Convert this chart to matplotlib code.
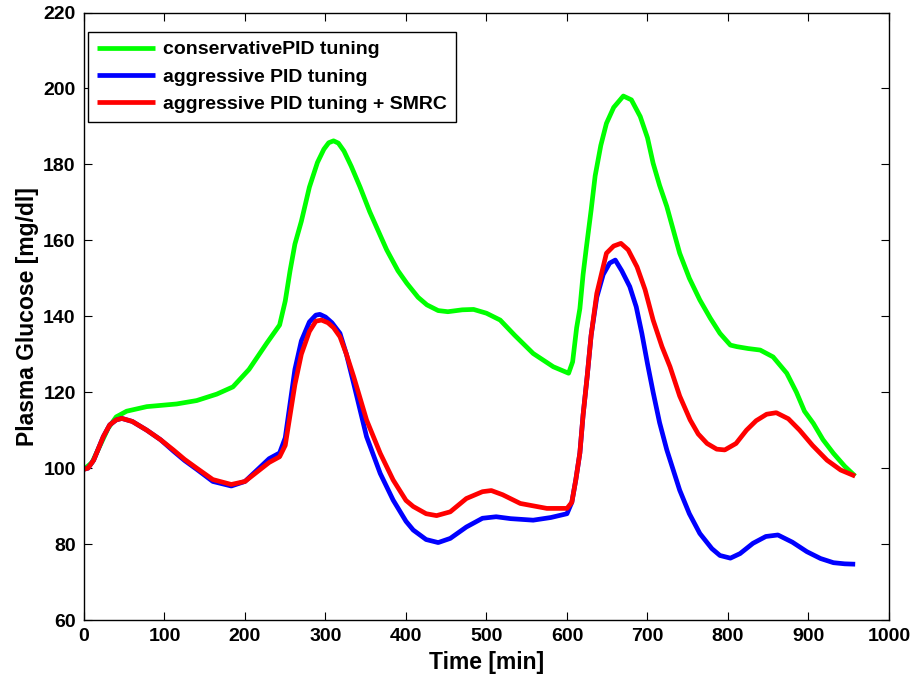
import matplotlib
matplotlib.use("Agg")
import matplotlib.pyplot as plt

plt.rcParams['font.family'] = ['Liberation Sans', 'DejaVu Sans']
plt.rcParams['font.weight'] = 'bold'

# ---- data ----
t_cons = [0, 10, 20, 30, 40, 53, 78, 115, 140, 165, 185, 205, 227, 243, 250, 256,
          262, 270, 280, 290, 298, 304, 310, 316, 323, 332, 343, 355, 376, 390,
          401, 415, 426, 440, 452, 470, 484, 500, 517, 535, 558, 583, 602, 607,
          612, 616, 620, 624, 630, 635, 642, 649, 658, 670, 680, 691, 700, 707,
          715, 724, 740, 752, 765, 778, 790, 803, 811, 825, 840, 856, 873, 885,
          895, 906, 918, 931, 945, 958]
g_cons = [99.7, 101.5, 106, 110.5, 113.5, 115, 116.2, 116.9, 117.8, 119.5, 121.4,
          126, 132.9, 137.7, 144, 152, 159, 165, 174, 180.5, 184, 185.7, 186.2,
          185.6, 183.5, 179.5, 174, 167.5, 157.5, 152, 148.7, 145, 143, 141.5,
          141.2, 141.7, 141.8, 140.8, 139, 135, 130.2, 126.7, 125, 128, 137, 142,
          151, 158, 168, 177, 185, 190.8, 195, 198, 197, 192.6, 187, 180.3, 174.5,
          168.9, 156.6, 150, 144.3, 139.5, 135.5, 132.4, 132, 131.5, 131.1, 129.3,
          125, 120, 115, 111.8, 107.5, 103.9, 100.5, 97.9]

t_aggr = [0, 5, 12, 24, 32, 40, 47, 60, 78, 95, 111, 125, 140, 160, 183, 200, 215,
          230, 243, 250, 256, 262, 270, 280, 288, 293, 300, 308, 318, 326, 335,
          351, 368, 384, 400, 409, 425, 440, 455, 475, 495, 512, 530, 558, 580,
          600, 606, 611, 616, 620, 625, 630, 637, 645, 653, 660, 668, 678, 686,
          693, 700, 707, 715, 724, 740, 752, 765, 780, 790, 803, 815, 831, 847,
          862, 880, 898, 915, 931, 945, 958]
g_aggr = [99.7, 100, 102.1, 108.3, 111.4, 112.7, 113.1, 112.3, 110, 107.5, 104.5,
          102, 99.7, 96.5, 95.3, 96.5, 99.5, 102.5, 104, 108, 117, 126, 133.5,
          138.5, 140.3, 140.5, 139.8, 138.3, 135.5, 130, 122.3, 108.3, 98.6, 91.6,
          86, 83.7, 81.2, 80.4, 81.5, 84.5, 86.8, 87.2, 86.7, 86.3, 87, 88, 91,
          97, 104, 114, 124, 135, 145, 151, 154, 154.8, 152, 147.8, 142.5, 135.5,
          127.5, 120, 112, 104.8, 94.2, 88, 82.8, 78.8, 77, 76.3, 77.5, 80.2, 82,
          82.4, 80.5, 78, 76.2, 75.1, 74.8, 74.7]

t_smrc = [0, 5, 12, 24, 32, 40, 47, 60, 78, 95, 111, 125, 140, 160, 183, 200, 215,
          230, 243, 250, 256, 262, 270, 280, 288, 295, 303, 310, 318, 326, 335,
          351, 368, 384, 400, 409, 425, 438, 455, 475, 495, 506, 520, 542, 575,
          600, 606, 611, 616, 620, 625, 630, 637, 649, 658, 667, 676, 687, 697,
          707, 718, 728, 740, 753, 763, 774, 786, 796, 810, 823, 835, 848, 860,
          875, 889, 905, 923, 940, 958]
g_smrc = [99.7, 100, 102.1, 108.3, 111.4, 112.7, 113.1, 112.3, 110, 107.5, 104.8,
          102.3, 100, 97, 95.7, 96.5, 99, 101.5, 103, 106, 114, 122, 130, 136,
          138.7, 139, 138.3, 137, 134.6, 130, 124.1, 112.7, 103.9, 96.9, 91.5,
          89.9, 88, 87.5, 88.5, 92, 93.8, 94.1, 93, 90.7, 89.4, 89.4, 91, 97, 104,
          114, 124, 135, 146, 156.6, 158.5, 159.2, 157.5, 153, 147, 139, 132,
          126.7, 119, 112.7, 109, 106.5, 105, 104.8, 106.5, 110, 112.5, 114.2,
          114.6, 113, 110, 106, 102.1, 99.5, 97.9]

labels = ['conservativePID tuning', 'aggressive PID tuning',
          'aggressive PID tuning + SMRC']
xticks = [0, 100, 200, 300, 400, 500, 600, 700, 800, 900, 1000]
yticks = [60, 80, 100, 120, 140, 160, 180, 200, 220]

# ---- figure ----
fig = plt.figure(figsize=(9.13, 6.76), dpi=100)
ax = fig.add_axes([0.092, 0.0828, 0.8817, 0.8987])

kw = dict(lw=3.4, solid_joinstyle='round', solid_capstyle='butt')
ax.plot(t_cons, g_cons, color=(0, 1, 0), label=labels[0], **kw)
ax.plot(t_aggr, g_aggr, color=(0, 0, 1), label=labels[1], **kw)
ax.plot(t_smrc, g_smrc, color=(1, 0, 0), label=labels[2], **kw)

ax.set_xlim(0, 1000)
ax.set_ylim(60, 220)
ax.set_xticks(xticks)
ax.set_yticks(yticks)
ax.tick_params(direction='in', length=6, width=0.8, top=True, right=True,
               labelsize=14, pad=6)
for lab in ax.get_xticklabels() + ax.get_yticklabels():
    lab.set_fontweight('bold')
for sp in ax.spines.values():
    sp.set_linewidth(1.0)

ax.set_xlabel('Time [min]', fontsize=16.5, fontweight='bold', labelpad=4)
ax.set_ylabel('Plasma Glucose [mg/dl]', fontsize=16.5, fontweight='bold', labelpad=3)

leg = ax.legend(loc='upper left', bbox_to_anchor=(0.005, 0.968), borderaxespad=0,
                fancybox=False, framealpha=1, edgecolor='black',
                handlelength=3.0, handletextpad=0.4, labelspacing=0.5,
                borderpad=0.45, prop={'weight': 'bold', 'size': 14})
leg.get_frame().set_linewidth(1.0)

fig.savefig('out.png', dpi=100, facecolor='white')
